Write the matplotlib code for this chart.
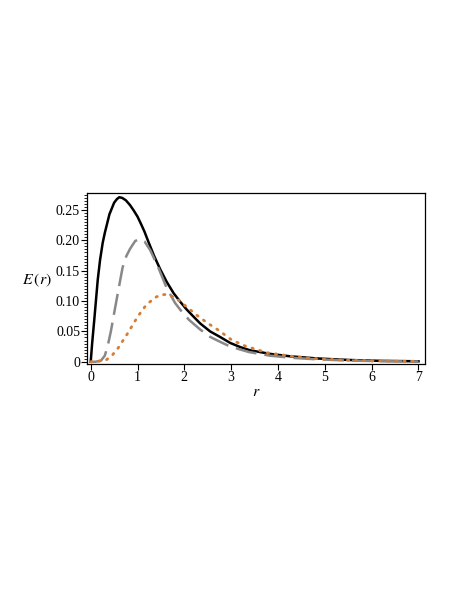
import numpy as np
import matplotlib
matplotlib.use("Agg")
import matplotlib.pyplot as plt
from matplotlib.ticker import MultipleLocator, FixedLocator

# values
r_black = [0, 0.03, 0.077, 0.15, 0.2, 0.256, 0.3, 0.4, 0.5, 0.56, 0.61, 0.67, 0.75,
           0.84, 0.92, 1.0, 1.08, 1.15, 1.23, 1.35, 1.48, 1.62, 1.77, 1.91, 2.05,
           2.2, 2.34, 2.55, 2.76, 2.98, 3.2, 3.4, 3.83, 4.26, 4.83, 5.5, 6.2, 7.0]
e_black = [0, 0.03, 0.070, 0.135, 0.168, 0.196, 0.212, 0.243, 0.262, 0.268, 0.271,
           0.270, 0.266, 0.258, 0.249, 0.239, 0.226, 0.214, 0.198, 0.175, 0.153,
           0.132, 0.113, 0.099, 0.086, 0.074, 0.063, 0.050, 0.041, 0.031, 0.024,
           0.019, 0.013, 0.0090, 0.0055, 0.003, 0.0015, 0.0008]

r_gray = [0, 0.1, 0.22, 0.30, 0.36, 0.43, 0.50, 0.6, 0.68, 0.76, 0.84, 0.95,
          1.05, 1.15, 1.27, 1.45, 1.62, 1.8, 1.95, 2.1, 2.34, 2.55, 2.76, 2.98,
          3.38, 3.83, 4.3, 4.83, 5.5, 6.2, 7.0]
e_gray = [0, 0, 0.002, 0.010, 0.025, 0.050, 0.080, 0.122, 0.155, 0.174, 0.186,
          0.199, 0.202, 0.198, 0.184, 0.154, 0.122, 0.097, 0.082, 0.069, 0.053,
          0.041, 0.033, 0.025, 0.016, 0.010, 0.0065, 0.004, 0.002, 0.001, 0.0005]

r_orange = [0, 0.11, 0.33, 0.45, 0.58, 0.79, 1.0, 1.18, 1.36, 1.48, 1.62, 1.80,
            2.01, 2.26, 2.51, 2.73, 3.01, 3.30, 3.76, 4.37, 4.83, 5.5, 6.2, 7.0]
e_orange = [0, 0, 0.003, 0.010, 0.022, 0.047, 0.074, 0.093, 0.105, 0.110, 0.111,
            0.106, 0.093, 0.077, 0.063, 0.052, 0.036, 0.026, 0.015, 0.0083,
            0.005, 0.0025, 0.0012, 0.0006]

x_ticks = [0, 1, 2, 3, 4, 5, 6, 7]
y_ticks = [0, 0.05, 0.10, 0.15, 0.20, 0.25]
y_labels = ["0", "0.05", "0.10", "0.15", "0.20", "0.25"]

plt.rcParams["font.family"] = ["Liberation Serif", "DejaVu Serif"]
plt.rcParams["mathtext.fontset"] = "stix"

fig = plt.figure(figsize=(4.58, 5.92), dpi=100)
ax = fig.add_axes([0.19, 0.385, 0.738, 0.289])

ax.plot(r_black, e_black, color="black", lw=1.8)
ax.plot(r_gray, e_gray, color="#888888", lw=1.8, dashes=(8.5, 3.2))
ax.plot(r_orange, e_orange, color="#d67d35", lw=2.0, ls=(0, (0.5, 2.4)),
        dash_capstyle="round")

ax.set_xlim(-0.079, 7.14)
ax.set_ylim(-0.0038, 0.278)
ax.xaxis.set_major_locator(FixedLocator(x_ticks))
ax.set_yticks(y_ticks)
ax.set_yticklabels(y_labels)
ax.yaxis.set_minor_locator(MultipleLocator(0.005))
ax.tick_params(axis="both", direction="out", labelsize=10, pad=1, width=0.8)
ax.tick_params(axis="y", which="major", length=4)
ax.tick_params(axis="y", which="minor", length=2, width=0.6)
ax.tick_params(axis="x", which="major", length=4)
for s in ax.spines.values():
    s.set_linewidth(0.9)

ax.set_xlabel("$r$", fontsize=11.5, labelpad=0)
ax.set_ylabel(r"$E\,(r)$", rotation=0, fontsize=11.5, va="center", ha="center")
ax.yaxis.set_label_coords(-0.149, 0.49)

fig.savefig("out.png", dpi=100)
